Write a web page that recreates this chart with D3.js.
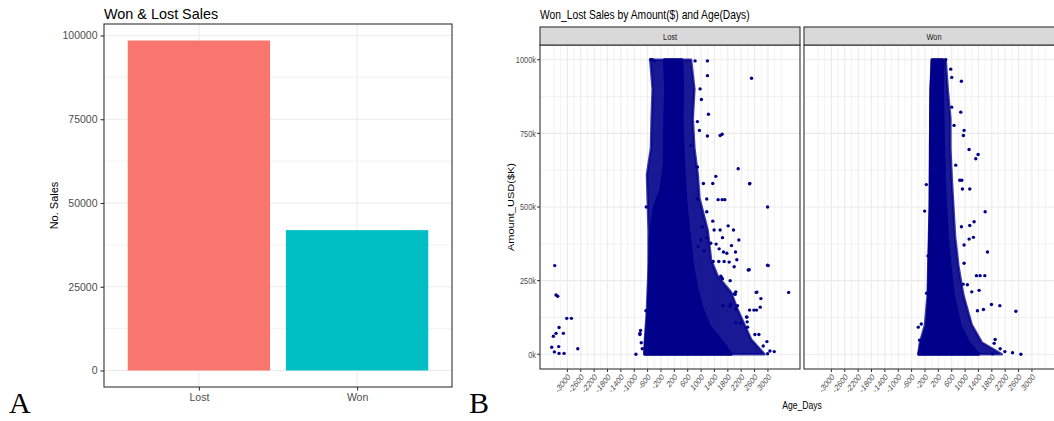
<!DOCTYPE html>
<html>
<head>
<meta charset="utf-8">
<script src="https://cdn.jsdelivr.net/npm/d3@7"></script>
<style>
  body { margin: 0; background: #fff; }
  svg { display: block; font-family: "Liberation Sans", Arial, sans-serif; }
</style>
</head>
<body>
<div id="chart"></div>
<script>
// ---- panel A: counts of won / lost sales ----
const outcomes = ['Lost', 'Won'];
const salesCount = [98500, 41900];
const countTicks = [0, 25000, 50000, 75000, 100000];
const barColors = ['#F8766D', '#00BFC4'];

// ---- panel B: amount (k$) vs age (days), faceted by outcome ----
const ageTicks = [-3000, -2600, -2200, -1800, -1400, -1000, -600, -200, 200, 600, 1000, 1400, 1800, 2200, 2600, 3000];
const amountTicks = [0, 250, 500, 750, 1000];

// dense part of the cloud, read row by row: [amountK, ageFrom, ageTo]
const lostCore = [
  [0, -680, 1900], [40, -660, 1650], [95, -620, 1250], [150, -580, 1050],
  [210, -560, 900], [300, -540, 750], [400, -520, 650], [500, -400, 560],
  [560, -200, 520], [650, -100, 480], [800, -90, 430], [900, -60, 450], [1000, -100, 420]
];
const lostFringe = [
  [0, -700, 2900], [50, -680, 2500], [100, -650, 2300], [150, -620, 2100],
  [210, -600, 1900], [265, -580, 1500], [320, -570, 1300], [420, -570, 1200],
  [530, -600, 950], [610, -620, 900], [700, -500, 800], [800, -480, 750],
  [900, -450, 800], [1000, -520, 700]
];
const wonCore = [
  [0, -380, 1400], [40, -300, 1100], [100, -130, 850], [200, -90, 650],
  [300, -80, 550], [400, -60, 470], [500, -40, 420], [600, -40, 380],
  [700, -40, 360], [800, -30, 340], [900, -20, 320], [1000, 20, 330]
];
const wonFringe = [
  [0, -400, 2100], [40, -350, 1500], [100, -200, 1200], [200, -120, 950],
  [300, -100, 800], [400, -80, 700], [500, -60, 650], [600, -50, 600],
  [700, -40, 560], [800, -40, 560], [900, -30, 480], [1000, 0, 420]
];

// scattered points outside the dense part: [ageDays, amountK]
const lostPoints = [
  [1190, 996], [820, 996], [1190, 946], [2510, 937], [970, 901], [1010, 865], [1220, 815],
  [890, 790], [950, 760], [1190, 741], [1570, 743], [1630, 747], [690, 709], [890, 636],
  [2110, 630], [1440, 604], [1070, 580], [1350, 580], [2450, 579], [2990, 500], [-640, 500],
  [890, 527], [1170, 527], [1510, 525], [1630, 525], [1710, 525], [1170, 484], [1350, 452],
  [1040, 433], [1390, 422], [1570, 422], [1810, 436], [1970, 422], [990, 388], [1170, 396],
  [1290, 377], [1450, 374], [1640, 396], [2130, 388], [910, 366], [1090, 351], [1540, 358],
  [1670, 347], [1770, 343], [1910, 369], [2030, 347], [2990, 302], [2410, 286], [1360, 315],
  [1530, 315], [1690, 315], [1840, 313], [1990, 297], [1610, 261], [1870, 250], [3620, 210],
  [2650, 210], [1990, 205], [2790, 189], [1650, 165], [1870, 163], [2090, 165], [2580, 150],
  [2450, 150], [2370, 126], [2040, 108], [2190, 106], [2390, 92], [2610, 67], [2730, 67],
  [2970, 43], [2860, 28], [3060, 11], [3190, 9], [2990, 2], [-950, 0], [-810, 81], [-830, 67],
  [-790, 39], [-760, 19], [-650, 148], [-610, 101], [-530, 287], [-830, 71], [-3380, 301],
  [-3340, 201], [-3290, 197], [-3020, 122], [-2880, 122], [-3250, 91], [-3120, 71], [-3340, 71],
  [-3420, 61], [-3470, 24], [-3260, 26], [-3390, 8], [-3250, 3], [-3100, 3], [-2690, 19],
  [3010, 301], [2670, 211], [2440, 287], [2770, 160], [2660, 150], [2360, 127], [2380, 110],
  [2070, 321], [2040, 212], [2020, 204], [2040, 154], [1890, 171], [1640, 256], [1590, 265],
  [2460, 580], [-510, 1000], [-460, 1000], [-400, 996]
];
const wonPoints = [
  [420, 1000], [570, 968], [600, 940], [890, 927], [600, 839], [870, 822], [670, 777],
  [970, 760], [950, 743], [1120, 695], [1390, 678], [1320, 664], [720, 642], [840, 591],
  [900, 591], [1140, 561], [920, 561], [-160, 576], [-210, 486], [1600, 484], [1270, 450],
  [1140, 437], [890, 433], [1250, 397], [1120, 391], [970, 371], [1670, 347], [-110, 334],
  [970, 309], [1340, 267], [1450, 267], [1590, 267], [1070, 236], [940, 238], [1420, 217],
  [1200, 212], [-150, 207], [1790, 169], [2040, 165], [2520, 146], [1550, 152], [1370, 148],
  [-400, 92], [-310, 103], [1900, 50], [1870, 37], [2050, 19], [2190, 9], [2420, 5],
  [2670, 0], [1820, 2], [-360, 48]
];

const W = 1054, H = 421;
const grid = '#ebebeb', frame = '#333333', tickText = '#4d4d4d', dotColor = '#00008B';

const svg = d3.select('#chart').append('svg')
    .attr('width', W)
    .attr('height', H);

// ================= A =================
const a = {left: 104, right: 452, top: 24, bottom: 387};

const yA = d3.scaleLinear()
    .domain([-4925, 103425])
    .range([a.bottom, a.top]);
const xA = d3.scalePoint()
    .domain(outcomes)
    .range([a.left, a.right])
    .padding(0.6);
const barW = xA.step() * 0.9;

const gA = svg.append('g');

gA.append('rect')
    .attr('x', a.left).attr('y', a.top)
    .attr('width', a.right - a.left).attr('height', a.bottom - a.top)
    .attr('fill', '#fff');

// minor grid, midway between the count ticks
const countMinor = countTicks.slice(1).map(function(v, i) { return (v + countTicks[i]) / 2; });
gA.selectAll('.minor')
    .data(countMinor)
  .enter().append('line')
    .attr('x1', a.left).attr('x2', a.right)
    .attr('y1', function(d) { return yA(d); })
    .attr('y2', function(d) { return yA(d); })
    .attr('stroke', grid).attr('stroke-width', 0.6);
gA.selectAll('.major')
    .data(countTicks)
  .enter().append('line')
    .attr('x1', a.left).attr('x2', a.right)
    .attr('y1', function(d) { return yA(d); })
    .attr('y2', function(d) { return yA(d); })
    .attr('stroke', grid).attr('stroke-width', 1.1);
gA.selectAll('.vmajor')
    .data(outcomes)
  .enter().append('line')
    .attr('x1', function(d) { return xA(d); })
    .attr('x2', function(d) { return xA(d); })
    .attr('y1', a.top).attr('y2', a.bottom)
    .attr('stroke', grid).attr('stroke-width', 1.1);

gA.selectAll('.bar')
    .data(outcomes)
  .enter().append('rect')
    .attr('x', function(d) { return xA(d) - barW / 2; })
    .attr('width', barW)
    .attr('y', function(d, i) { return yA(salesCount[i]); })
    .attr('height', function(d, i) { return yA(0) - yA(salesCount[i]); })
    .attr('fill', function(d, i) { return barColors[i]; });

gA.append('rect')
    .attr('x', a.left).attr('y', a.top)
    .attr('width', a.right - a.left).attr('height', a.bottom - a.top)
    .attr('fill', 'none').attr('stroke', frame).attr('stroke-width', 1.1);

const axisLeftA = d3.axisLeft(yA).tickValues(countTicks).tickSize(3.5).tickPadding(3).tickFormat(d3.format('d'));
gA.append('g')
    .attr('transform', 'translate(' + a.left + ',0)')
    .call(axisLeftA)
    .call(function(g) { g.select('.domain').remove(); });
const axisBottomA = d3.axisBottom(xA).tickSize(3.5).tickPadding(3);
gA.append('g')
    .attr('transform', 'translate(0,' + a.bottom + ')')
    .call(axisBottomA)
    .call(function(g) { g.select('.domain').remove(); });
gA.selectAll('.tick line').attr('stroke', frame).attr('stroke-width', 1.1);
gA.selectAll('.tick text')
    .attr('fill', tickText)
    .style('font-size', '10.5px')
    .style('font-family', '"Liberation Sans", Arial, sans-serif');

gA.append('text')
    .attr('x', a.left).attr('y', 18.5)
    .style('font-size', '14.4px')
    .text('Won & Lost Sales');
gA.append('text')
    .attr('transform', 'translate(58,' + ((a.top + a.bottom) / 2) + ') rotate(-90)')
    .attr('text-anchor', 'middle')
    .style('font-size', '11px')
    .text('No. Sales');

// ================= B =================
// the B figure is horizontally squeezed; text gets the same squeeze
const K = 0.78;
function squish(x, y, rot) {
  return 'translate(' + x + ',' + y + ') scale(' + K + ',1)' + (rot ? ' rotate(' + rot + ')' : '');
}

const b = {top: 45, bottom: 369, stripTop: 27, width: 260};
const facets = [
  {name: 'Lost', left: 540, core: lostCore, fringe: lostFringe, points: lostPoints},
  {name: 'Won', left: 804, core: wonCore, fringe: wonFringe, points: wonPoints}
];

const yB = d3.scaleLinear()
    .domain([-50, 1050])
    .range([b.bottom, b.top]);

const ageStep = ageTicks[1] - ageTicks[0];
const ageExt = [ageTicks[0] - ageStep].concat(ageTicks, [ageTicks[ageTicks.length - 1] + ageStep]);
const ageMinor = [];
ageExt.forEach(function(v, i) {
  if (i > 0) ageMinor.push((v + ageExt[i - 1]) / 2);
});
ageMinor.push(ageExt[0], ageExt[ageExt.length - 1]);
const amountMinor = amountTicks.slice(1).map(function(v, i) { return (v + amountTicks[i]) / 2; });

const gB = svg.append('g');

gB.append('text')
    .attr('transform', squish(540, 18.5))
    .style('font-size', '13.2px')
    .text('Won_Lost Sales by Amount($) and Age(Days)');

facets.forEach(function(f, fi) {
  const xB = d3.scaleLinear()
      .domain([-3820, 3960])
      .range([f.left, f.left + b.width]);
  const g = gB.append('g');

  g.append('rect')
      .attr('x', f.left).attr('y', b.top)
      .attr('width', b.width).attr('height', b.bottom - b.top)
      .attr('fill', '#fff');

  g.selectAll('.vminor')
      .data(ageMinor)
    .enter().append('line')
      .attr('x1', function(d) { return xB(d); })
      .attr('x2', function(d) { return xB(d); })
      .attr('y1', b.top).attr('y2', b.bottom)
      .attr('stroke', grid).attr('stroke-width', 0.6);
  g.selectAll('.hminor')
      .data(amountMinor)
    .enter().append('line')
      .attr('x1', f.left).attr('x2', f.left + b.width)
      .attr('y1', function(d) { return yB(d); })
      .attr('y2', function(d) { return yB(d); })
      .attr('stroke', grid).attr('stroke-width', 0.6);
  g.selectAll('.vmajor')
      .data(ageTicks)
    .enter().append('line')
      .attr('x1', function(d) { return xB(d); })
      .attr('x2', function(d) { return xB(d); })
      .attr('y1', b.top).attr('y2', b.bottom)
      .attr('stroke', grid).attr('stroke-width', 1.1);
  g.selectAll('.hmajor')
      .data(amountTicks)
    .enter().append('line')
      .attr('x1', f.left).attr('x2', f.left + b.width)
      .attr('y1', function(d) { return yB(d); })
      .attr('y2', function(d) { return yB(d); })
      .attr('stroke', grid).attr('stroke-width', 1.1);

  const band = d3.area()
      .y(function(d) { return yB(d[0]); })
      .x0(function(d) { return xB(d[1]); })
      .x1(function(d) { return xB(d[2]); });

  g.append('path')
      .datum(f.fringe)
      .attr('d', band)
      .attr('fill', dotColor).attr('fill-opacity', 0.9)
      .attr('stroke', dotColor).attr('stroke-opacity', 0.75).attr('stroke-width', 2.5)
      .attr('stroke-linejoin', 'round');
  g.append('path')
      .datum(f.core)
      .attr('d', band)
      .attr('fill', dotColor)
      .attr('stroke', dotColor).attr('stroke-width', 3)
      .attr('stroke-linejoin', 'round');

  g.selectAll('.dot')
      .data(f.points)
    .enter().append('circle')
      .attr('class', 'dot')
      .attr('cx', function(d) { return xB(d[0]); })
      .attr('cy', function(d) { return yB(d[1]); })
      .attr('r', 1.7)
      .attr('fill', dotColor);

  g.append('rect')
      .attr('x', f.left).attr('y', b.top)
      .attr('width', b.width).attr('height', b.bottom - b.top)
      .attr('fill', 'none').attr('stroke', frame).attr('stroke-width', 1.1);

  // strip
  g.append('rect')
      .attr('x', f.left).attr('y', b.stripTop)
      .attr('width', b.width).attr('height', b.top - b.stripTop)
      .attr('fill', '#d9d9d9').attr('stroke', frame).attr('stroke-width', 1.1);
  g.append('text')
      .attr('transform', squish(f.left + b.width / 2, 39.5))
      .attr('text-anchor', 'middle')
      .attr('fill', '#1a1a1a')
      .style('font-size', '9.5px')
      .text(f.name);

  // x axis
  const ax = g.append('g');
  ax.selectAll('line')
      .data(ageTicks)
    .enter().append('line')
      .attr('x1', function(d) { return xB(d); })
      .attr('x2', function(d) { return xB(d); })
      .attr('y1', b.bottom).attr('y2', b.bottom + 3)
      .attr('stroke', frame).attr('stroke-width', 1);
  ax.selectAll('text')
      .data(ageTicks)
    .enter().append('text')
      .attr('transform', function(d) { return squish(xB(d), b.bottom + 4, -45); })
      .attr('text-anchor', 'end')
      .attr('dy', '0.7em')
      .attr('fill', tickText)
      .style('font-size', '9px')
      .text(function(d) { return d; });

  // y axis only on the first facet
  if (fi === 0) {
    const ay = g.append('g');
    ay.selectAll('line')
        .data(amountTicks)
      .enter().append('line')
        .attr('x1', f.left - 3).attr('x2', f.left)
        .attr('y1', function(d) { return yB(d); })
        .attr('y2', function(d) { return yB(d); })
        .attr('stroke', frame).attr('stroke-width', 1);
    ay.selectAll('text')
        .data(amountTicks)
      .enter().append('text')
        .attr('transform', function(d) { return squish(f.left - 4, yB(d)); })
        .attr('text-anchor', 'end')
        .attr('dy', '0.35em')
        .attr('fill', tickText)
        .style('font-size', '9.5px')
        .text(function(d) { return d + 'k'; });
  }
});

gB.append('text')
    .attr('transform', squish(802, 409))
    .attr('text-anchor', 'middle')
    .style('font-size', '11px')
    .text('Age_Days');
gB.append('text')
    .attr('transform', squish(514, (b.top + b.bottom) / 2, -90))
    .attr('text-anchor', 'middle')
    .style('font-size', '11px')
    .text('Amount_USD($K)');

// panel letters
svg.append('text')
    .attr('x', 9).attr('y', 413)
    .style('font-family', '"Liberation Serif", "DejaVu Serif", serif')
    .style('font-size', '30px')
    .text('A');
svg.append('text')
    .attr('x', 469).attr('y', 413)
    .style('font-family', '"Liberation Serif", "DejaVu Serif", serif')
    .style('font-size', '30px')
    .text('B');
</script>
</body>
</html>
